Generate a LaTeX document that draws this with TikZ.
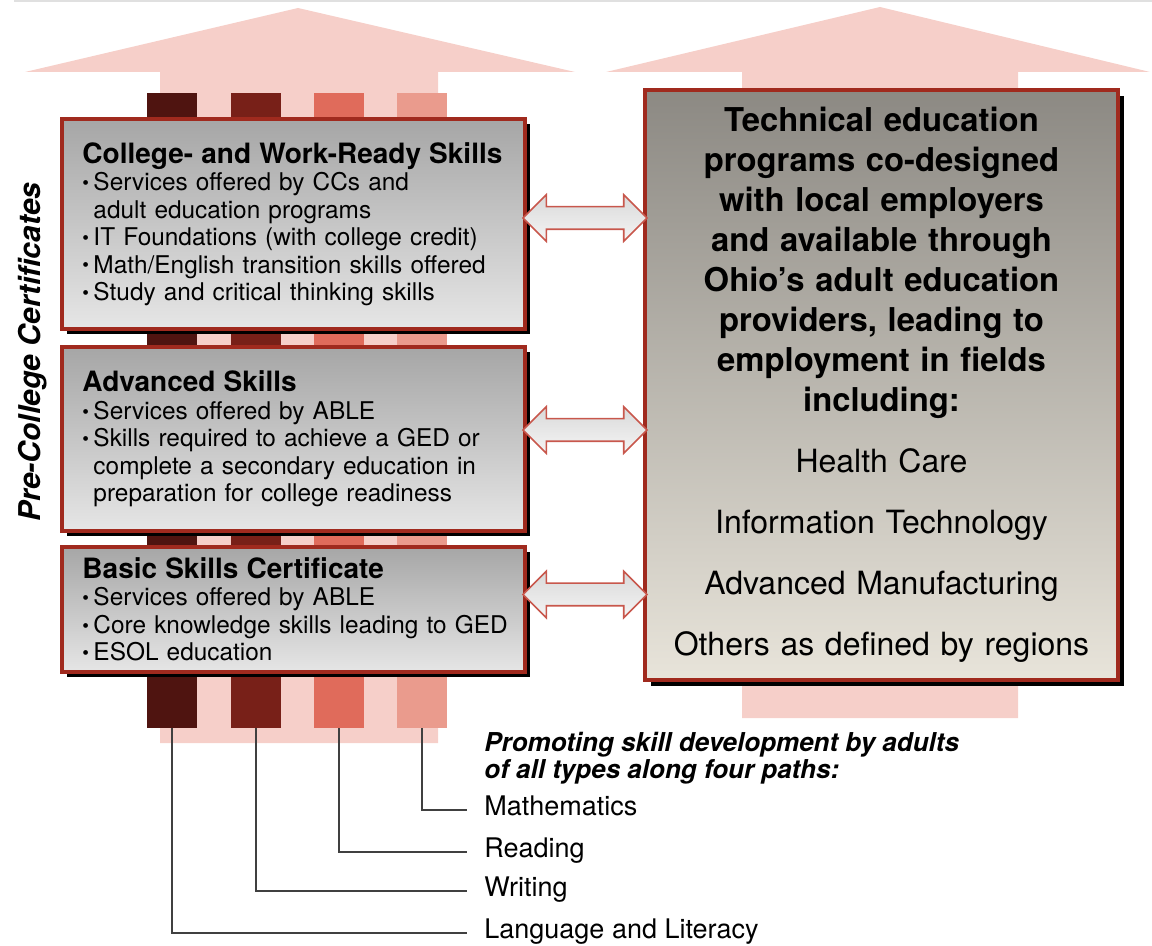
\documentclass[tikz,border=0pt]{standalone}
\usepackage{fontspec}
\setmainfont{TeX Gyre Heros}
\usetikzlibrary{calc,shadows,shapes.arrows}
\definecolor{boxred}{HTML}{A02A1E}
\definecolor{arrowpink}{HTML}{F6CFC9}
\definecolor{linkred}{HTML}{C8574C}
\definecolor{pathA}{HTML}{4F1410}
\definecolor{pathB}{HTML}{782018}
\definecolor{pathC}{HTML}{E06B5B}
\definecolor{pathD}{HTML}{EA9B8D}
\definecolor{boxtop}{HTML}{A6A6A6}
\definecolor{boxbot}{HTML}{E6E6E6}
\definecolor{techtop}{HTML}{8C8983}
\definecolor{techbot}{HTML}{E8E4DA}
\newcommand\itm{\makebox[5.5pt][l]{\raisebox{0.6pt}{\fontsize{9.5}{9}\selectfont •}}}
\newcommand\cnt{\hspace*{5.5pt}}

\begin{document}
\begin{tikzpicture}[x=0.5pt,y=-0.5pt,
 pathbar/.style={rectangle,minimum width=25pt,minimum height=317.5pt,inner sep=0pt},
 skillbox/.style={rectangle,draw=boxred,line width=1.6pt,top color=boxtop,bottom color=boxbot,
  drop shadow={shadow xshift=2.5pt,shadow yshift=-2.5pt,fill=black,opacity=1},
  minimum width=231.5pt,text width=211pt,align=left,inner sep=0pt,
  font=\fontsize{12.2}{13.75}\selectfont},
 techbox/.style={rectangle,draw=boxred,line width=1.6pt,top color=techtop,bottom color=techbot,
  drop shadow={shadow xshift=3pt,shadow yshift=-3pt,fill=black,opacity=1},
  minimum width=236.5pt,minimum height=295pt,text width=225pt,align=center,inner sep=0pt,
  font=\fontsize{16}{20}\selectfont},
 linkarrow/.style={double arrow,draw=linkred,line width=0.8pt,top color=gray!30,bottom color=gray!8,
  minimum height=62pt,inner xsep=0pt,inner ysep=5.25pt,double arrow head extend=6pt},
 pathline/.style={draw=black!75,line width=1pt},
 pathtxt/.style={anchor=mid west,inner sep=0pt,font=\fontsize{13.5}{16}\selectfont}]

\useasboundingbox (0,0) rectangle (1152,946);
\draw[black!12,line width=0.8pt] (14,1) -- (1152,1);

\fill[arrowpink] (298,8) -- (575,72) -- (438,72) -- (438,743) -- (160,743) -- (160,72) -- (25,72) -- cycle;
\fill[arrowpink] (880,7) -- (1150,72) -- (1018,72) -- (1018,718) -- (742,718) -- (742,72) -- (606,72) -- cycle;

\node[pathbar,fill=pathA] (lang) at (172,410.5) {};
\node[pathbar,fill=pathB] (writ) at (256,410.5) {};
\node[pathbar,fill=pathC] (read) at (339,410.5) {};
\node[pathbar,fill=pathD] (math) at (422,410.5) {};

\node[skillbox,minimum height=105pt] (cwr) at (293.5,224) {{\bfseries\fontsize{14}{14}\selectfont College- and Work-Ready Skills}\\
\itm Services offered by CCs and\\
\cnt adult education programs\\
\itm IT Foundations (with college credit)\\
\itm Math/English transition skills offered\\
\itm Study and critical thinking skills};
\node[skillbox,minimum height=92pt] (adv) at (293.5,439) {{\bfseries\fontsize{14}{14}\selectfont Advanced Skills}\\
\itm Services offered by ABLE\\
\itm Skills required to achieve a GED or\\
\cnt complete a secondary education in\\
\cnt preparation for college readiness};
\node[skillbox,minimum height=62.5pt] (bas) at (293.5,609.5) {{\bfseries\fontsize{14}{14}\selectfont Basic Skills Certificate}\\
\itm Services offered by ABLE\\
\itm \mbox{Core knowledge skills leading to GED}\\
\itm ESOL education};

\node[techbox] (tech) at (881.5,385) {{\bfseries\fontsize{16.4}{20}\selectfont Technical education}\\
{\bfseries\fontsize{16.4}{20}\selectfont programs co-designed}\\
{\bfseries\fontsize{16.4}{20}\selectfont with local employers}\\
{\bfseries\fontsize{16.4}{20}\selectfont and available through}\\
{\bfseries\fontsize{16.4}{20}\selectfont Ohio’s adult education}\\
{\bfseries\fontsize{16.4}{20}\selectfont providers, leading to}\\
{\bfseries\fontsize{16.4}{20}\selectfont employment in fields}\\
{\bfseries\fontsize{16.4}{20}\selectfont including:}\\[10.5pt]
Health Care\\[10.5pt]
Information Technology\\[10.5pt]
Advanced Manufacturing\\[10.5pt]
Others as defined by regions};

\node[linkarrow] (l1) at ($(cwr.east)!0.5!(tech.west |- cwr.east)+(0,-6)$) {};
\node[linkarrow] (l2) at ($(adv.east)!0.5!(tech.west |- adv.east)+(0,-9)$) {};
\node[linkarrow] (l3) at ($(bas.east)!0.5!(tech.west |- bas.east)+(0,-15)$) {};

\node[rotate=90,font=\bfseries\itshape\fontsize{15}{18}\selectfont] (pre) at (33,352) {Pre-College Certificates};

\node[anchor=north west,inner sep=0pt,align=left,font=\bfseries\itshape\fontsize{13}{12}\selectfont] (head) at (484,732) {Promoting skill development by adults\\of all types along four paths:};
\node[pathtxt] (mathtxt) at (484,810) {Mathematics};
\node[pathtxt] (readtxt) at (484,852) {Reading};
\node[pathtxt] (writtxt) at (484,891) {Writing};
\node[pathtxt] (langtxt) at (484,933) {Language and Literacy};

\draw[pathline] (math.south) |- ([xshift=-8.5pt]mathtxt.mid west);
\draw[pathline] (read.south) |- ([xshift=-8.5pt]readtxt.mid west);
\draw[pathline] (writ.south) |- ([xshift=-8.5pt]writtxt.mid west);
\draw[pathline] (lang.south) |- ([xshift=-8.5pt]langtxt.mid west);
\end{tikzpicture}
\end{document}
